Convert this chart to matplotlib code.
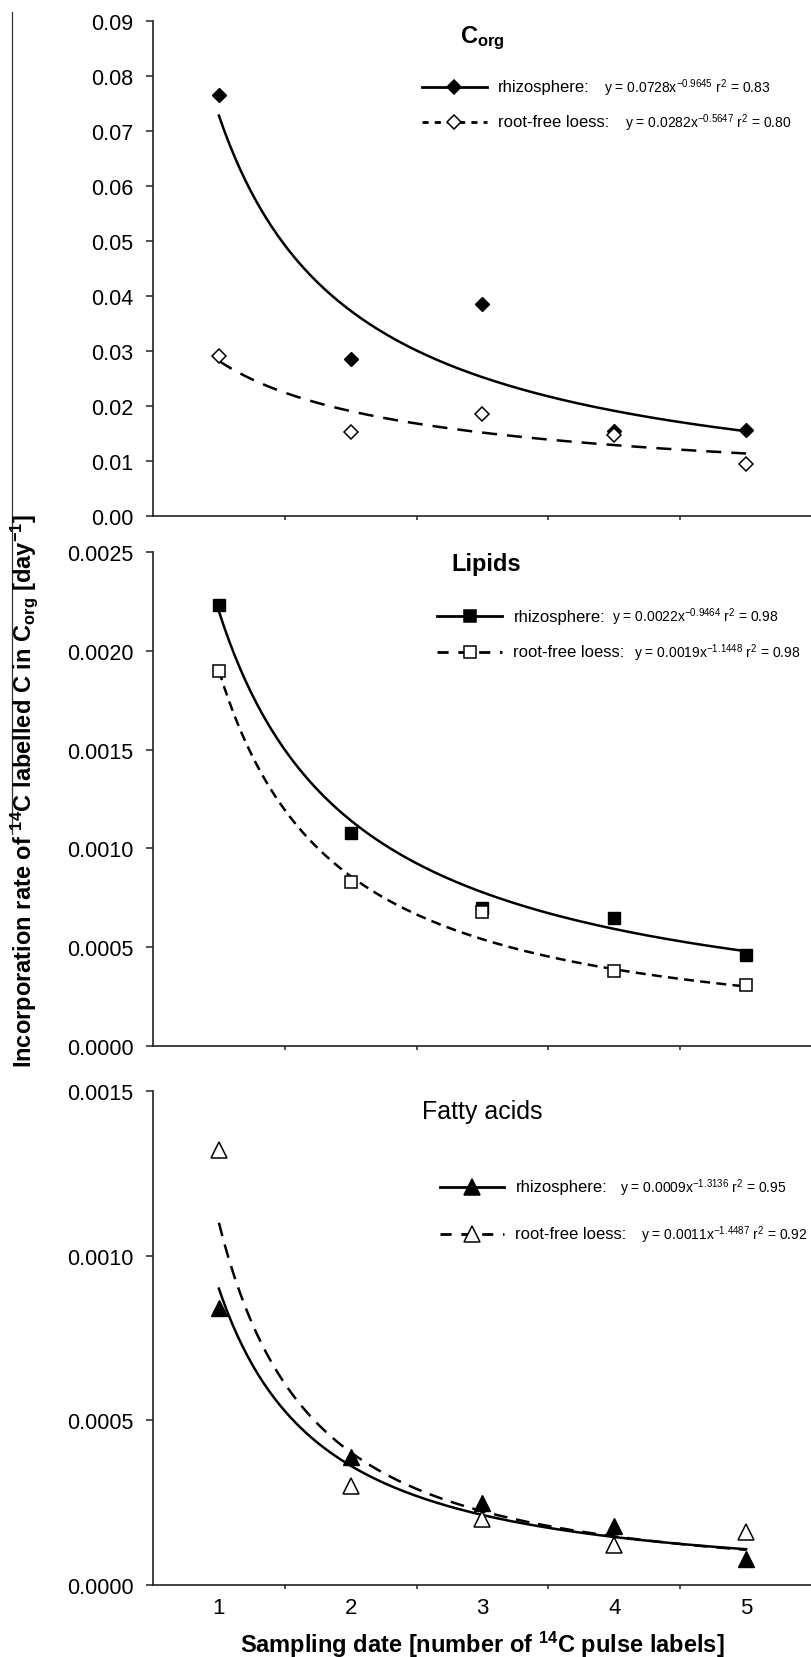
import matplotlib
matplotlib.use("Agg")
import matplotlib.pyplot as plt
import numpy as np
from matplotlib.lines import Line2D
from matplotlib.ticker import FixedLocator, FormatStrFormatter

plt.rcParams['font.family'] = ['Liberation Sans', 'DejaVu Sans']
plt.rcParams['mathtext.fontset'] = 'custom'
plt.rcParams['mathtext.rm'] = 'Liberation Sans'
plt.rcParams['mathtext.it'] = 'Liberation Sans:italic'
plt.rcParams['mathtext.bf'] = 'Liberation Sans:bold'

# 采样日期 (number of 14C pulse labels)
sampling = [1, 2, 3, 4, 5]

# Corg
corg_rhizo = [0.0765, 0.0285, 0.0386, 0.0155, 0.0156]
corg_loess = [0.0291, 0.0153, 0.0185, 0.0147, 0.0094]
# Lipids
lip_rhizo = [0.00223, 0.00108, 0.00070, 0.00065, 0.00046]
lip_loess = [0.00190, 0.00083, 0.00068, 0.00038, 0.00031]
# Fatty acids
fa_rhizo = [0.00084, 0.00039, 0.00025, 0.00018, 0.00008]
fa_loess = [0.00132, 0.00030, 0.00020, 0.00012, 0.00016]

# power trend lines y = a * x^b, r2 (from the legend)
corg_fit = [(0.0728, -0.9645, 0.83), (0.0282, -0.5647, 0.80)]
lip_fit = [(0.0022, -0.9464, 0.98), (0.0019, -1.1448, 0.98)]
fa_fit = [(0.0009, -1.3136, 0.95), (0.0011, -1.4487, 0.92)]

series_names = ['rhizosphere:', 'root-free loess:']

W, H = 812, 1658
fig = plt.figure(figsize=(W / 100, H / 100), dpi=100)


def fig_axes(top_px, bottom_px):
    left = 153 / W
    return fig.add_axes([left, 1 - bottom_px / H, 1 - left, (bottom_px - top_px) / H])


def eq_text(a, b, r2):
    return (f"y = {a:.4f}x$^{{\\mathregular{{{b:.4f}}}}}$ "
            f"r$^{{\\mathregular{{2}}}}$ = {r2:.2f}")


def style_axes(ax, ymax, ystep, fmt, show_x=False):
    ax.set_xlim(0.5, 5.5)
    ax.set_ylim(0, ymax)
    for s in ['top', 'right']:
        ax.spines[s].set_visible(False)
    for s in ['left', 'bottom']:
        ax.spines[s].set_linewidth(1.2)
        ax.spines[s].set_color('#222222')
    ax.set_yticks(np.arange(0, ymax + ystep / 2, ystep))
    ax.yaxis.set_major_formatter(FormatStrFormatter(fmt))
    ax.set_xticks(sampling)
    ax.xaxis.set_minor_locator(FixedLocator([1.5, 2.5, 3.5, 4.5]))
    ax.tick_params(axis='y', direction='out', length=5, width=1.1, pad=9,
                   labelsize=15.5, color='#222222')
    ax.tick_params(axis='x', which='major', length=0, pad=9, labelsize=16,
                   labelbottom=show_x)
    ax.tick_params(axis='x', which='minor', direction='out', length=3,
                   width=1.1, color='#222222')


def legend_row(ax, y, x0, x1, ls, marker, mfc, ms, label, eq, x_eq, dashes=None):
    xm = (x0 + x1) / 2
    ln, = ax.plot([x0, xm, x1], [y, y, y], transform=ax.transAxes, clip_on=False,
                  color='black', lw=2.0, ls=ls, marker=marker, markevery=[1],
                  mfc=mfc, mec='black', ms=ms, mew=1.1)
    if dashes is not None:
        ln.set_dashes(dashes)
    ax.text(x1 + 0.017, y, label, transform=ax.transAxes, fontsize=12,
            va='center', ha='left')
    ax.text(x_eq, y, eq, transform=ax.transAxes, fontsize=10,
            va='center', ha='left')


def panel(ax, rhizo, loess, fits, marker, ms, dash_curve, dash_key, rows, keyx, eqx):
    xs = np.linspace(1, 5, 200)
    (a1, b1, r1), (a2, b2, r2) = fits
    ax.plot(xs, a1 * xs ** b1, color='black', lw=1.8, zorder=2)
    ln, = ax.plot(xs, a2 * xs ** b2, color='black', lw=1.8, zorder=2)
    ln.set_dashes(dash_curve)
    ax.plot(sampling, rhizo, ls='none', marker=marker, ms=ms, mfc='black',
            mec='black', zorder=3)
    ax.plot(sampling, loess, ls='none', marker=marker, ms=ms, mfc='white',
            mec='black', mew=1.1, zorder=3)
    legend_row(ax, rows[0], keyx[0], keyx[1], '-', marker, 'black', ms,
               series_names[0], eq_text(a1, b1, r1), eqx[0])
    legend_row(ax, rows[1], keyx[0], keyx[1], '--', marker, 'white', ms,
               series_names[1], eq_text(a2, b2, r2), eqx[1], dashes=dash_key)


# ---- Corg ----
ax1 = fig_axes(22, 517)
style_axes(ax1, 0.09, 0.01, '%.2f')
panel(ax1, corg_rhizo, corg_loess, corg_fit, 'D', 7, (6, 4), (2.2, 2.2),
      rows=(0.867, 0.796), keyx=(0.408, 0.507), eqx=(0.684, 0.716))
ax1.text(0.5, 0.968, r"C$_{\mathbf{org}}$", transform=ax1.transAxes,
         ha='center', va='center', fontsize=17, fontweight='bold')

# ---- Lipids ----
ax2 = fig_axes(553, 1047)
style_axes(ax2, 0.0025, 0.0005, '%.4f')
panel(ax2, lip_rhizo, lip_loess, lip_fit, 's', 8.5, (4, 2.5), (4, 3.5),
      rows=(0.870, 0.798), keyx=(0.431, 0.530), eqx=(0.697, 0.730))
ax2.text(0.505, 0.976, "Lipids", transform=ax2.transAxes,
         ha='center', va='center', fontsize=17, fontweight='bold')

# ---- Fatty acids ----
ax3 = fig_axes(1092, 1586)
style_axes(ax3, 0.0015, 0.0005, '%.4f', show_x=True)
panel(ax3, fa_rhizo, fa_loess, fa_fit, '^', 12, (5.5, 3.5), (4, 3.5),
      rows=(0.806, 0.711), keyx=(0.436, 0.533), eqx=(0.709, 0.740))
ax3.text(0.5, 0.96, "Fatty acids", transform=ax3.transAxes,
         ha='center', va='center', fontsize=18)

ax3.set_xlabel(r"Sampling date [number of $^{\mathbf{14}}$C pulse labels]",
               fontsize=17, fontweight='bold')
ax3.xaxis.set_label_coords(0.5, -0.088)

fig.text(24 / W, 1 - 791 / H,
         r"Incorporation rate of $^{\mathbf{14}}$C labelled C in C$_{\mathbf{org}}$ [day$^{\mathbf{-1}}$]",
         rotation=90, ha='center', va='center', fontsize=17, fontweight='bold')

# thin scan line left of the top panel
fig.add_artist(Line2D([12 / W, 12 / W], [1 - 13 / H, 1 - 835 / H],
                      transform=fig.transFigure, color='#333333', lw=0.9))

fig.savefig('out.png', dpi=100, facecolor='white')
